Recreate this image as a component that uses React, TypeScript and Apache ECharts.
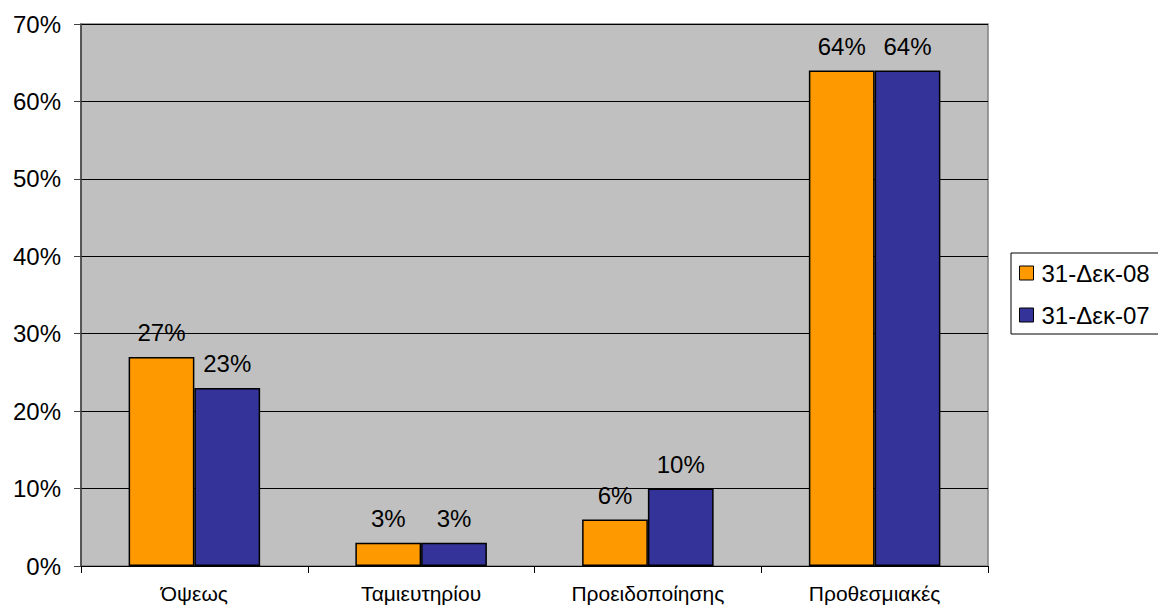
import React, { useEffect, useRef } from "react";
import * as echarts from "echarts";

const categories = ["Όψεως", "Ταμιευτηρίου", "Προειδοποίησης", "Προθεσμιακές"];
const seriesNames = ["31-Δεκ-08", "31-Δεκ-07"];
const values08 = [27, 3, 6, 64];
const values07 = [23, 3, 10, 64];
const colors = ["#FF9900", "#333399"];

export default function App() {
  const ref = useRef<HTMLDivElement>(null);
  useEffect(() => {
    if (!ref.current) return;
    const chart = echarts.init(ref.current, null, { renderer: "svg" });
    const font = "Liberation Sans, Arial, sans-serif";
    const mk = (name: string, data: number[], color: string) => ({
      name,
      type: "bar",
      data,
      barCategoryGap: "42%",
      barGap: "0%",
      itemStyle: { color, borderColor: "#000", borderWidth: 1.5 },
      label: {
        show: true,
        position: "top",
        distance: 12,
        formatter: "{c}%",
        color: "#000",
        fontSize: 24,
        fontFamily: font,
      },
    });
    chart.setOption({
      animation: false,
      backgroundColor: "#fff",
      textStyle: { fontFamily: font },
      grid: {
        left: 81,
        top: 24,
        right: 170,
        bottom: 47,
        show: true,
        backgroundColor: "#C0C0C0",
        borderColor: "#808080",
        borderWidth: 1.5,
      },
      legend: {
        orient: "vertical",
        left: 1011,
        top: 253,
        padding: [8, 30, 7, 8],
        itemGap: 18,
        itemWidth: 14,
        itemHeight: 14,
        icon: "rect",
        borderColor: "#000",
        borderWidth: 1,
        textStyle: { fontSize: 24, fontFamily: font, color: "#000", lineHeight: 24, padding: [0, 0, 0, 3] },
        itemStyle: { borderColor: "#000", borderWidth: 1 },
        data: seriesNames,
      },
      xAxis: {
        type: "category",
        data: categories,
        axisLine: { show: true, lineStyle: { color: "#000", width: 1 } },
        axisTick: { show: true, alignWithLabel: false, length: 7, lineStyle: { color: "#000" } },
        axisLabel: { fontSize: 21, color: "#000", margin: 17, fontFamily: font },
        splitLine: { show: false },
      },
      yAxis: {
        type: "value",
        min: 0,
        max: 70,
        interval: 10,
        axisLine: { show: true, lineStyle: { color: "#404040", width: 1.5 } },
        axisTick: { show: true, length: 7, lineStyle: { color: "#404040" } },
        axisLabel: { formatter: "{value}%", fontSize: 24, color: "#000", margin: 20, fontFamily: font },
        splitLine: { show: true, lineStyle: { color: "#000", width: 1 } },
      },
      series: [
        mk(seriesNames[0], values08, colors[0]),
        mk(seriesNames[1], values07, colors[1]),
      ],
    });
    return () => chart.dispose();
  }, []);
  return (
    <div
      ref={ref}
      style={{ position: "fixed", left: 0, top: 0, width: 1158, height: 613 }}
    />
  );
}
